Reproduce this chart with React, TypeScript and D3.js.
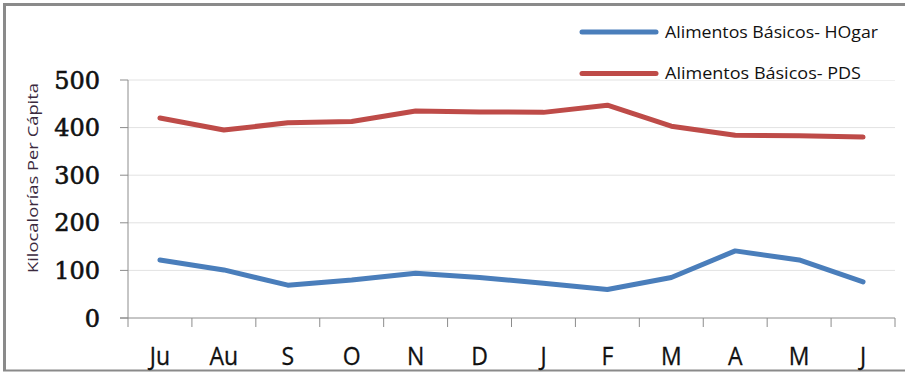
import React from "react";
import * as d3 from "d3";

const months = ["Ju", "Au", "S", "O", "N", "D", "J", "F", "M", "A", "M", "J"];
const hogar = [122, 101, 69, 80, 94, 85, 73, 60, 85, 141, 122, 76];
const pds = [420, 395, 410, 413, 435, 433, 432, 447, 403, 384, 383, 380];
const yTicks = [0, 100, 200, 300, 400, 500];
const seriesNames = ["Alimentos Básicos- HOgar", "Alimentos Básicos- PDS"];
const seriesColors = ["#4a7ebb", "#be4b48"];

export default function App() {
  const W = 905, H = 372;
  const left = 128, right = 895, top = 80, bottom = 318;
  const idx = months.map((_, i) => String(i));
  const x = d3.scaleBand<string>().domain(idx).range([left, right]);
  const y = d3.scaleLinear().domain([0, 500]).range([bottom, top]);
  const line = d3
    .line<number>()
    .x((_, i) => (x(String(i)) as number) + x.bandwidth() / 2)
    .y((d) => y(d));
  const bounds = d3.range(months.length + 1).map((i) => left + i * x.bandwidth());
  const series = [hogar, pds];

  return (
    <svg
      width={W}
      height={H}
      style={{ position: "absolute", left: 0, top: 0, background: "#fff" }}
    >
      <rect x={0} y={0} width={W} height={H} fill="#fff" />
      {/* frame */}
      <line x1={4.5} x2={4.5} y1={3} y2={371} stroke="#8a8a8a" strokeWidth={3} />
      <line x1={3} x2={W} y1={4.5} y2={4.5} stroke="#8a8a8a" strokeWidth={3} />
      <line x1={3} x2={W} y1={370.5} y2={370.5} stroke="#8a8a8a" strokeWidth={2} />

      {/* gridlines */}
      {yTicks.slice(1).map((t) => (
        <line key={t} x1={left} x2={right} y1={y(t)} y2={y(t)} stroke="#e2e2e2" strokeWidth={1} />
      ))}

      {/* axes */}
      <line x1={left} x2={left} y1={top} y2={bottom} stroke="#8c8c8c" strokeWidth={1} />
      <line x1={left - 8} x2={right} y1={bottom} y2={bottom} stroke="#8c8c8c" strokeWidth={1} />
      {yTicks.map((t) => (
        <line key={t} x1={left - 8} x2={left} y1={y(t)} y2={y(t)} stroke="#8c8c8c" />
      ))}
      {bounds.map((b, i) => (
        <line key={i} x1={b} x2={b} y1={bottom} y2={bottom + 9} stroke="#8c8c8c" />
      ))}

      {/* y tick labels */}
      {yTicks.map((t) => (
        <text
          key={t}
          x={100}
          y={y(t)}
          dy="0.36em"
          textAnchor="end"
          fontFamily="DejaVu Serif"
          fontSize={24}
          fill="#111"
          stroke="#111"
          strokeWidth={0.6}
        >
          {t}
        </text>
      ))}

      {/* x tick labels */}
      {months.map((m, i) => {
        const cx = (x(String(i)) as number) + x.bandwidth() / 2;
        return (
          <text
            key={i}
            transform={`translate(${cx},${365}) scale(0.92,1)`}
            textAnchor="middle"
            fontFamily="Open Sans"
            fontSize={25}
            fill="#111"
            stroke="#111"
            strokeWidth={0.3}
          >
            {m}
          </text>
        );
      })}

      {/* y axis title */}
      <text
        transform={`translate(38,178) rotate(-90)`}
        textAnchor="middle"
        fontFamily="Open Sans"
        fontSize={14}
        textLength={190}
        lengthAdjust="spacingAndGlyphs"
        fill="#3b2a3e"
      >
        Kilocalorías Per Cápita
      </text>

      {/* lines */}
      {series.map((s, k) => (
        <path
          key={k}
          d={line(s) as string}
          fill="none"
          stroke={seriesColors[k]}
          strokeWidth={5}
          strokeLinejoin="round"
          strokeLinecap="round"
        />
      ))}

      {/* legend */}
      <rect x={660} y={14} width={240} height={66} fill="#fff" />
      {seriesNames.map((n, k) => {
        const ly = k === 0 ? 32 : 73.5;
        return (
          <g key={k}>
            <line x1={582} x2={656} y1={ly} y2={ly} stroke={seriesColors[k]} strokeWidth={5} strokeLinecap="round" />
            <text
              x={665}
              y={ly}
              dy="0.35em"
              fontFamily="Open Sans"
              fontSize={16}
              textLength={k === 0 ? 213 : 196}
              lengthAdjust="spacingAndGlyphs"
              fill="#111"
            >
              {n}
            </text>
          </g>
        );
      })}
    </svg>
  );
}
